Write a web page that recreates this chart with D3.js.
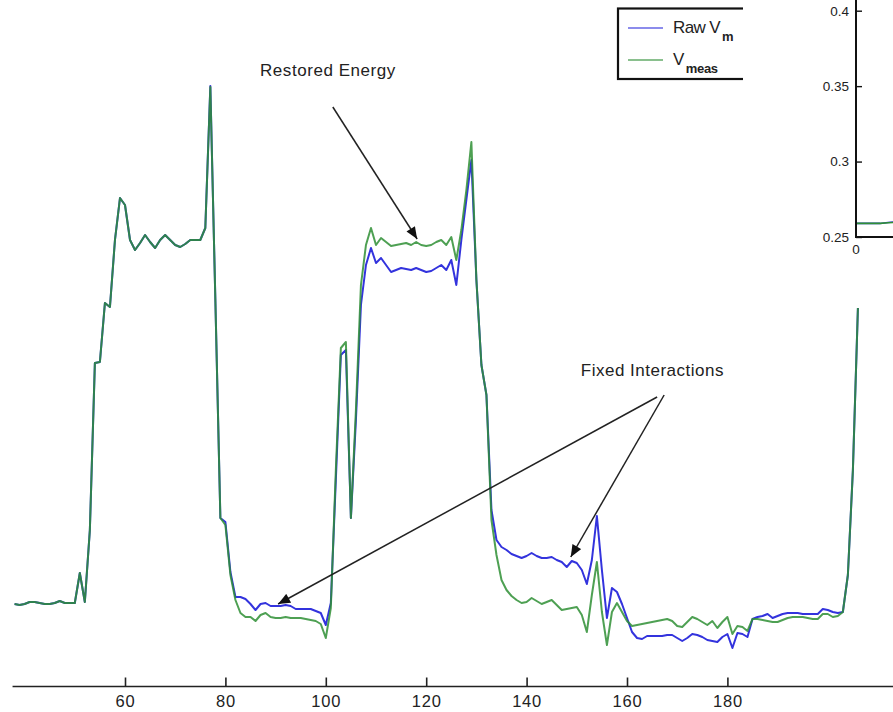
<!DOCTYPE html>
<html>
<head>
<meta charset="utf-8">
<script src="https://cdn.jsdelivr.net/npm/d3@7"></script>
<style>
body { margin: 0; background: #fff; }
svg { display: block; }
text { font-family: "Liberation Sans", Arial, sans-serif; fill: #222; }
</style>
</head>
<body>
<div id="chart"></div>
<script>

// sample index of the first point, one sample per unit
var firstSample = 38;

var rawVm = [
    16.4, 16.2, 16.4, 16.8, 16.8, 16.6, 16.4, 16.4, 16.6, 17.0,
    16.6, 16.6, 16.6, 22.6, 16.8, 31.2, 64.6, 64.8, 76.6, 75.8,
    89.2, 97.6, 96.2, 89.2, 87.2, 88.6, 90.2, 88.8, 87.6, 89.2,
    90.2, 89.2, 88.2, 87.8, 88.4, 89.2, 89.2, 89.2, 91.6, 120.0,
    77.2, 33.6, 32.8, 22.8, 17.8, 17.8, 17.4, 16.4, 15.2, 16.4,
    16.6, 16.0, 16.0, 16.0, 16.2, 16.0, 15.4, 15.4, 15.4, 15.4,
    15.0, 14.6, 12.2, 16.6, 41.2, 66.2, 67.2, 33.6, 53.2, 76.2,
    84.2, 87.6, 84.6, 85.6, 84.2, 82.8, 83.2, 83.6, 83.4, 83.2,
    83.6, 83.2, 82.8, 83.0, 83.6, 84.2, 83.2, 85.2, 80.2, 89.2,
    97.2, 105.2, 81.2, 64.2, 58.2, 35.2, 29.2, 27.8, 27.2, 26.4,
    26.0, 25.6, 26.0, 26.6, 26.0, 25.6, 25.6, 25.8, 25.2, 24.8,
    23.8, 25.0, 24.6, 23.2, 20.4, 25.2, 34.0, 23.2, 13.6, 19.6,
    18.8, 16.4, 13.6, 10.8, 9.6, 9.4, 10.0, 10.0, 10.0, 10.0,
    10.2, 10.2, 9.6, 9.0, 9.6, 10.4, 10.2, 9.8, 9.2, 9.0,
    8.8, 9.8, 10.4, 7.6, 10.6, 10.4, 9.8, 13.4, 13.8, 14.0,
    14.4, 13.6, 14.0, 14.4, 14.6, 14.6, 14.6, 14.4, 14.4, 14.4,
    14.4, 15.4, 15.2, 14.8, 14.6, 14.8, 22.2, 43.2, 75.6
];

var vMeas = [
    16.4, 16.2, 16.4, 16.8, 16.8, 16.6, 16.4, 16.4, 16.6, 17.0,
    16.6, 16.6, 16.6, 22.6, 16.8, 31.2, 64.6, 64.8, 76.6, 75.8,
    89.2, 97.6, 96.2, 89.2, 87.2, 88.6, 90.2, 88.8, 87.6, 89.2,
    90.2, 89.2, 88.2, 87.8, 88.4, 89.2, 89.2, 89.2, 91.6, 119.8,
    77.2, 33.6, 32.2, 22.2, 17.2, 14.6, 13.8, 13.8, 13.0, 14.2,
    14.6, 13.8, 13.6, 13.6, 13.8, 13.6, 13.6, 13.6, 13.4, 13.2,
    13.0, 12.4, 9.6, 15.6, 43.2, 67.6, 68.8, 33.6, 55.2, 80.2,
    88.2, 91.6, 88.2, 89.6, 88.8, 88.0, 88.2, 88.4, 88.6, 88.2,
    88.8, 88.2, 88.0, 88.2, 88.8, 89.2, 88.2, 89.8, 85.2, 91.2,
    99.2, 108.8, 81.2, 64.2, 58.2, 33.2, 26.2, 21.2, 19.2, 18.0,
    17.2, 16.6, 16.8, 17.6, 17.0, 16.4, 16.8, 17.2, 16.2, 15.2,
    15.4, 15.6, 15.8, 14.2, 10.8, 18.2, 24.8, 14.8, 8.2, 14.8,
    16.6, 14.8, 13.0, 12.0, 12.2, 12.4, 12.6, 12.8, 13.0, 13.2,
    13.4, 13.0, 12.0, 11.8, 12.8, 13.8, 13.4, 12.8, 12.2, 13.0,
    11.6, 12.8, 13.8, 10.4, 12.0, 11.8, 11.0, 13.4, 13.4, 13.2,
    13.0, 12.8, 12.8, 13.2, 13.6, 13.8, 13.8, 13.8, 13.6, 13.4,
    13.4, 14.4, 14.4, 13.8, 14.0, 14.8, 22.2, 43.2, 75.6
];

var xTicks = [60, 80, 100, 120, 140, 160, 180];

// small inset panel (top right)
var insetTicks = [0.25, 0.3, 0.35, 0.4];
var insetRaw = [0.259, 0.259, 0.259, 0.259, 0.2596, 0.2602];
var insetMeas = [0.259, 0.259, 0.259, 0.259, 0.2594, 0.2598];

var blue = "#3333dd";
var green = "#2f8f35";

var width = 893;
var height = 712;

var svg = d3.select("#chart")
    .append("svg")
    .attr("width", width)
    .attr("height", height);

svg.append("defs")
    .append("marker")
    .attr("id", "head")
    .attr("markerUnits", "userSpaceOnUse")
    .attr("viewBox", "0 0 12 10")
    .attr("refX", 12)
    .attr("refY", 5)
    .attr("markerWidth", 13)
    .attr("markerHeight", 10)
    .attr("orient", "auto")
    .append("path")
    .attr("d", "M0,0 L12,5 L0,10 Z")
    .attr("fill", "#111");

svg.select("defs")
    .append("clipPath")
    .attr("id", "legendClip")
    .append("rect")
    .attr("x", 0)
    .attr("y", 0)
    .attr("width", 743)
    .attr("height", 100);

var x = d3.scaleLinear()
    .domain([60, 180])
    .range([125, 727.4]);

var y = d3.scaleLinear()
    .domain([0, 120])
    .range([686, 86]);

var line = d3.line()
    .x(function(d, i) { return x(firstSample + i); })
    .y(function(d) { return y(d); });

// main axis: ticks point up, labels below
var axisY = 686.5;
var axisG = svg.append("g")
    .attr("transform", "translate(0," + axisY + ")")
    .call(d3.axisBottom(x)
        .tickValues(xTicks)
        .tickSize(-9)
        .tickPadding(9)
        .tickSizeOuter(0));
axisG.select(".domain").remove();
axisG.selectAll(".tick line").attr("stroke", "#222").attr("stroke-width", 1.6);
axisG.selectAll(".tick text")
    .style("font-size", "16.5px")
    .style("letter-spacing", "0.8px")
    .attr("fill", "#222");
axisG.append("line")
    .attr("x1", x(37.6))
    .attr("x2", width)
    .attr("stroke", "#222")
    .attr("stroke-width", 1.6);

// series
svg.append("path")
    .datum(rawVm)
    .attr("d", line)
    .attr("fill", "none")
    .attr("stroke", blue)
    .attr("stroke-width", 2)
    .attr("stroke-linejoin", "round");

svg.append("path")
    .datum(vMeas)
    .attr("d", line)
    .attr("fill", "none")
    .attr("stroke", green)
    .attr("stroke-opacity", 0.85)
    .attr("stroke-width", 2)
    .attr("stroke-linejoin", "round");

// annotations (data coordinates)
function arrow(x0, y0, x1, y1) {
    svg.append("line")
        .attr("x1", x(x0))
        .attr("y1", y(y0))
        .attr("x2", x(x1))
        .attr("y2", y(y1))
        .attr("stroke", "#222")
        .attr("stroke-width", 1.5)
        .attr("marker-end", "url(#head)");
}

svg.append("text")
    .attr("x", x(86.9))
    .attr("y", y(122))
    .style("font-size", "17px")
    .style("letter-spacing", "0.55px")
    .text("Restored Energy");
arrow(101.4, 115.8, 118.2, 89.4);

svg.append("text")
    .attr("x", x(150.8))
    .attr("y", y(62))
    .style("font-size", "17px")
    .style("letter-spacing", "0.5px")
    .text("Fixed Interactions");
arrow(167.4, 58.2, 148.8, 25.8);
arrow(166.0, 57.8, 90.5, 16.4);

// legend, cut off on its right side
var legend = svg.append("g")
    .attr("clip-path", "url(#legendClip)");

legend.append("rect")
    .attr("x", 618)
    .attr("y", 8.5)
    .attr("width", 160)
    .attr("height", 70.5)
    .attr("fill", "#fff")
    .attr("stroke", "#111")
    .attr("stroke-width", 2.2);

var legendItems = [
    { color: blue, main: "Raw V", sub: "m", y: 28 },
    { color: green, main: "V", sub: "meas", y: 60 }
];

legendItems.forEach(function(d) {
    legend.append("line")
        .attr("x1", 628)
        .attr("x2", 663)
        .attr("y1", d.y)
        .attr("y2", d.y)
        .attr("stroke", d.color)
        .attr("stroke-opacity", 0.75)
        .attr("stroke-width", 1.6);
    var t = legend.append("text")
        .attr("x", 673)
        .attr("y", d.y + 5)
        .style("font-size", "17px")
        .style("letter-spacing", "-0.6px");
    t.append("tspan").text(d.main);
    t.append("tspan")
        .attr("dx", 2)
        .attr("dy", 8)
        .style("font-size", "13px")
        .style("font-weight", "bold")
        .style("letter-spacing", "-0.3px")
        .text(d.sub);
});

// inset panel
var inX = d3.scaleLinear()
    .domain([0, 5])
    .range([856, 896]);

var inY = d3.scaleLinear()
    .domain([0.25, 0.4])
    .range([237, 10.7]);

var inset = svg.append("g");

inset.append("rect")
    .attr("x", 856)
    .attr("y", 0)
    .attr("width", 40)
    .attr("height", 237)
    .attr("fill", "#fff");

var inLine = d3.line()
    .x(function(d, i) { return inX(i); })
    .y(function(d) { return inY(d); });

inset.append("path")
    .datum(insetRaw)
    .attr("d", inLine)
    .attr("fill", "none")
    .attr("stroke", blue)
    .attr("stroke-width", 1.6);

inset.append("path")
    .datum(insetMeas)
    .attr("d", inLine)
    .attr("fill", "none")
    .attr("stroke", green)
    .attr("stroke-width", 1.6);

var inAxis = inset.append("g")
    .attr("transform", "translate(856,0)")
    .call(d3.axisLeft(inY)
        .tickValues(insetTicks)
        .tickSize(-6)
        .tickPadding(7)
        .tickSizeOuter(0)
        .tickFormat(function(d) { return String(d); }));
inAxis.select(".domain").remove();
inAxis.selectAll(".tick line").attr("stroke", "#111").attr("stroke-width", 1.4);
inAxis.selectAll(".tick text").style("font-size", "13.5px").attr("fill", "#222");

inset.append("line")
    .attr("x1", 856)
    .attr("x2", 856)
    .attr("y1", 0)
    .attr("y2", 237.5)
    .attr("stroke", "#111")
    .attr("stroke-width", 2);

inset.append("line")
    .attr("x1", 855)
    .attr("x2", width)
    .attr("y1", 237)
    .attr("y2", 237)
    .attr("stroke", "#111")
    .attr("stroke-width", 2);

inset.append("text")
    .attr("x", inX(0))
    .attr("y", 254)
    .attr("text-anchor", "middle")
    .style("font-size", "13.5px")
    .text("0");

</script>
</body>
</html>
